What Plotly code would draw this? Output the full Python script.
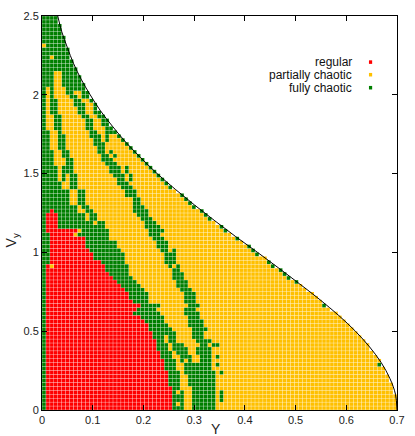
import plotly.graph_objects as go

# classification map, one string per Vy row (bottom -> top)
# tokens: r = regular, y = partially chaotic, g = fully chaotic, number = cells
# cells after the last token up to row_len are partially chaotic
row_runs = [
    "g1 r32 g3 y2 g6",                 # 0
    "g1 r32 g1 y1 g1 y2 g6",
    "g1 r32 g3 y2 g6 y1 g1",
    "g1 r32 g3 y2 g6 y1 g1",
    "g1 r32 g1 y1 g1 y2 g6 y1 g1",
    "g1 r32 g2 y3 g6",
    "g1 r31 g3 y2 g7",
    "g1 r31 g3 y2 g7",
    "g1 r31 g3 y2 g7",
    "g1 r31 g3 y1 g8 y1 g1",
    "g1 r30 g3 y2 g7",                 # 10
    "g1 r30 g3 y2 g7 y1 g1",
    "g1 r30 g3 y1 g1 y1 g1 y2 g3",
    "g1 r29 g3 y2 g3 y2 g3 y1 g1",
    "g1 r29 g3 y1 g3 y2 g4",
    "g1 r28 g3 y1 g4 y2 g4",
    "g1 r28 g3 y1 g3 y4 g2 y1 g2",
    "g1 r28 g2 y1 g2 y5 g4",
    "g1 r27 g3 y1 g2 y4 g3",
    "g1 r27 g6 y4 g3",
    "g1 r26 g6 y5 g4",                 # 20
    "g1 r26 g5 y5 g4",
    "g1 r25 g5 y6 g4",
    "g1 r24 g6 y6 g3",
    "g1 r22 g7 y6 g4",
    "g1 r23 g5 y7 g3",
    "g1 r24 g5 y7 g3",
    "g1 r22 g4 y9 g3",
    "g1 r21 g5 y9 g3",
    "g1 r21 g5 y9 g3",
    "g1 r20 g5 y9 g3",                 # 30
    "g1 r19 g5 y9 g3",
    "g1 r18 g5 y10 g3",
    "g1 r17 g5 y10 g3",
    "g1 r16 g5 y11 g3",
    "g1 r15 g6 y11 g2",
    "g1 r1 y1 r13 g6 y10 g1 y1 g1",
    "g2 r13 g6 y10 g3",
    "g2 r11 g8 y10 g3",
    "g2 r11 g8 y10 g3",
    "g2 r10 g8 y10 g2 y1 g1",          # 40
    "g2 r9 g8 y10 g3",
    "g2 r9 g8 y10 g3",
    "g2 r9 g6 y11 g3",
    "g2 r6 y1 g8 y10 g3",
    "g1 r8 y1 g7 y10 g4",
    "g1 r3 g12 y10 g4",
    "g1 r3 g9 y1 g2 y10 g3",
    "g1 r3 g7 y1 g2 y11 g3",
    "g1 r3 g7 y1 g2 y10 g3",
    "g2 r1 g6 y2 g2 y10 g4",           # 50
    "g9 y1 g2 y11 g3",
    "g7 y2 g2 y12 g2",
    "g7 y2 g2 y12 g2",
    "g7 y2 g2 y10 g3 y11 g1",
    "g7 y2 g2 y10 g3 y10",
    "g5 y2 g2 y11 g3 y9 g1",
    "g5 y2 g2 y10 g3 y9 g1",
    "g4 y1 g1 y1 g2 y10 g2 y1 g1 y7 g1",
    "g4 y1 g1 y1 g2 y9 g3 y1 g1 y6 g1",
    "g4 y1 g3 y9 g3 y1 g1 y6 g1",      # 60
    "g4 y1 g3 y9 g3 y1 g1 y5 g1",
    "g3 y3 g2 y8 g3 y7 g1",
    "g3 y3 g2 y7 g3 y7 g1",
    "g3 y2 g2 y8 g2 y1 g1 y5 g1",
    "g3 y2 g2 y7 g2 y1 g1 y5 g1",
    "g2 y2 g2 y8 g2 y6 g1",
    "g2 y2 g2 y7 g3 y5 g1",
    "g2 y2 g2 y7 g2 y1 g1 y3 g1",
    "g2 y2 g2 y6 g3 y1 g1 y2 g1",
    "g2 y2 g1 y7 g2 y2 g3",            # 70
    "g1 y2 g2 y6 g2 y3 g2",
    "g1 y2 g2 y6 g2 y2 g2",
    "g1 y2 g2 y6 g2 y2 g2",
    "g1 y2 g2 y5 g2 y2 g2",
    "g1 y1 g2 y5 g2 y2 g2",
    "g1 y1 g2 y5 g2 y2 g1",
    "g1 y1 g2 y4 g3 y2 g1",
    "g1 y1 g2 y4 g2 y2 g1",
    "g1 y1 g1 y4 g2 y1 g2",
    "g1 y1 g1 y3 g2 y2 g2",            # 80
    "g1 y1 g1 y3 g5",
    "g3 y2 g6",
    "g3 y2 g5",
    "g3 y2 g5",
    "g3 y2 g4",
    "g9",
    "g8",
    "g8",
    "g2 y1 g4",
    "g7",                              # 90
    "g7",
    "y1 g5",
    "g6",
    "g6",
    "g5",
    "g5",
    "g5",
    "g4",
    "g4",
]

# number of cells inside the energy boundary in each row
row_len = [
    90, 90, 90, 90, 89, 89, 89, 88, 88, 87,
    87, 86, 86, 85, 84, 83, 83, 82, 81, 80,
    79, 78, 77, 76, 75, 73, 72, 71, 70, 69,
    67, 66, 65, 63, 62, 61, 59, 58, 57, 55,
    54, 53, 51, 50, 48, 47, 46, 44, 43, 42,
    41, 39, 38, 37, 36, 34, 33, 32, 31, 30,
    29, 28, 27, 26, 25, 24, 23, 22, 21, 20,
    19, 18, 17, 17, 16, 15, 14, 14, 13, 12,
    12, 11, 11, 10, 10, 9, 9, 8, 8, 7,
    7, 7, 6, 6, 6, 5, 5, 5, 4, 4,
]

# rows whose outermost cell (on the boundary) is fully chaotic
edge_green_rows = [11, 26, 32, 33, 34, 35, 36, 37, 39, 40, 41, 43, 45, 46,
                   48, 49, 50, 51, 52, 53]

# energy boundary
boundary_vy = [2.5, 2.4, 2.3, 2.2, 2.1, 2.0, 1.9, 1.8, 1.7, 1.6, 1.5, 1.4, 1.3,
               1.2, 1.1, 1.0, 0.9, 0.8, 0.7, 0.6, 0.5, 0.4, 0.3, 0.2, 0.1, 0.0]
boundary_y = [0.031, 0.039, 0.050, 0.062, 0.077, 0.095, 0.115, 0.139, 0.165,
              0.195, 0.227, 0.263, 0.301, 0.341, 0.382, 0.425, 0.467, 0.508,
              0.548, 0.585, 0.618, 0.646, 0.669, 0.686, 0.697, 0.700]

legend_labels = ["regular", "partially chaotic", "fully chaotic"]
class_colors = ["#ff0000", "#ffc000", "#007f00"]
code = {"r": 0, "y": 1, "g": 2}

n_cols = 90
y_step = 0.7 / n_cols
vy_step = 0.025

# cell centres of each class
pts = {0: ([], []), 1: ([], []), 2: ([], [])}
for i, (runs, n) in enumerate(zip(row_runs, row_len)):
    cells = []
    for tok in runs.split():
        cells += [code[tok[0]]] * int(tok[1:])
    cells += [1] * (n - len(cells))
    cells = cells[:n]
    if i in edge_green_rows:
        cells[-1] = 2
    for j, c in enumerate(cells):
        pts[c][0].append((j + 0.5) * y_step)
        pts[c][1].append((i + 0.5) * vy_step)

fig = go.Figure()
for c in (1, 2, 0):
    fig.add_trace(go.Scatter(
        x=pts[c][0], y=pts[c][1], mode="markers",
        marker=dict(symbol="square", size=3.6, color=class_colors[c],
                    line=dict(width=0)),
        name=legend_labels[c], hoverinfo="skip", cliponaxis=True,
    ))
fig.add_trace(go.Scatter(
    x=boundary_y, y=boundary_vy, mode="lines",
    line=dict(color="black", width=1, shape="spline"),
    showlegend=False, hoverinfo="skip",
))

font = dict(family="Liberation Sans, Arial, sans-serif", size=11, color="#222")
axis_common = dict(
    showline=True, linecolor="black", linewidth=1, mirror="ticks",
    ticks="inside", ticklen=5, tickcolor="black", tickwidth=1,
    showgrid=False, zeroline=False, tickfont=font,
)

annotations = [
    dict(text="Y", x=0.49, y=-0.047, xref="paper", yref="paper",
         showarrow=False, font=dict(font, size=14), yanchor="middle"),
    dict(text="V<sub>y</sub>", x=-0.085, y=0.43, xref="paper", yref="paper",
         showarrow=False, font=dict(font, size=14), textangle=-90,
         xanchor="center", yanchor="middle"),
]
shapes = []
leg_y = [0.883, 0.851, 0.818]
for label, color, ly in zip(legend_labels, class_colors, leg_y):
    annotations.append(dict(
        text=label, x=0.88, y=ly, xref="paper", yref="paper",
        xanchor="right", yanchor="middle", showarrow=False,
        font=dict(font, size=12, color="#111"),
    ))
    shapes.append(dict(
        type="rect", xref="paper", yref="paper",
        x0=0.921, x1=0.930, y0=ly - 0.0045, y1=ly + 0.0045,
        fillcolor=color, line=dict(width=0),
    ))

fig.update_layout(
    width=415, height=436,
    margin=dict(l=42, r=15, t=10, b=25),
    plot_bgcolor="white", paper_bgcolor="white",
    showlegend=False,
    xaxis=dict(axis_common, range=[0, 0.7], dtick=0.1),
    yaxis=dict(axis_common, range=[0, 2.5], dtick=0.5),
    annotations=annotations,
    shapes=shapes,
)

fig.write_html("out.html", config={"displayModeBar": False},
               post_script="document.body.style.margin='0';")
